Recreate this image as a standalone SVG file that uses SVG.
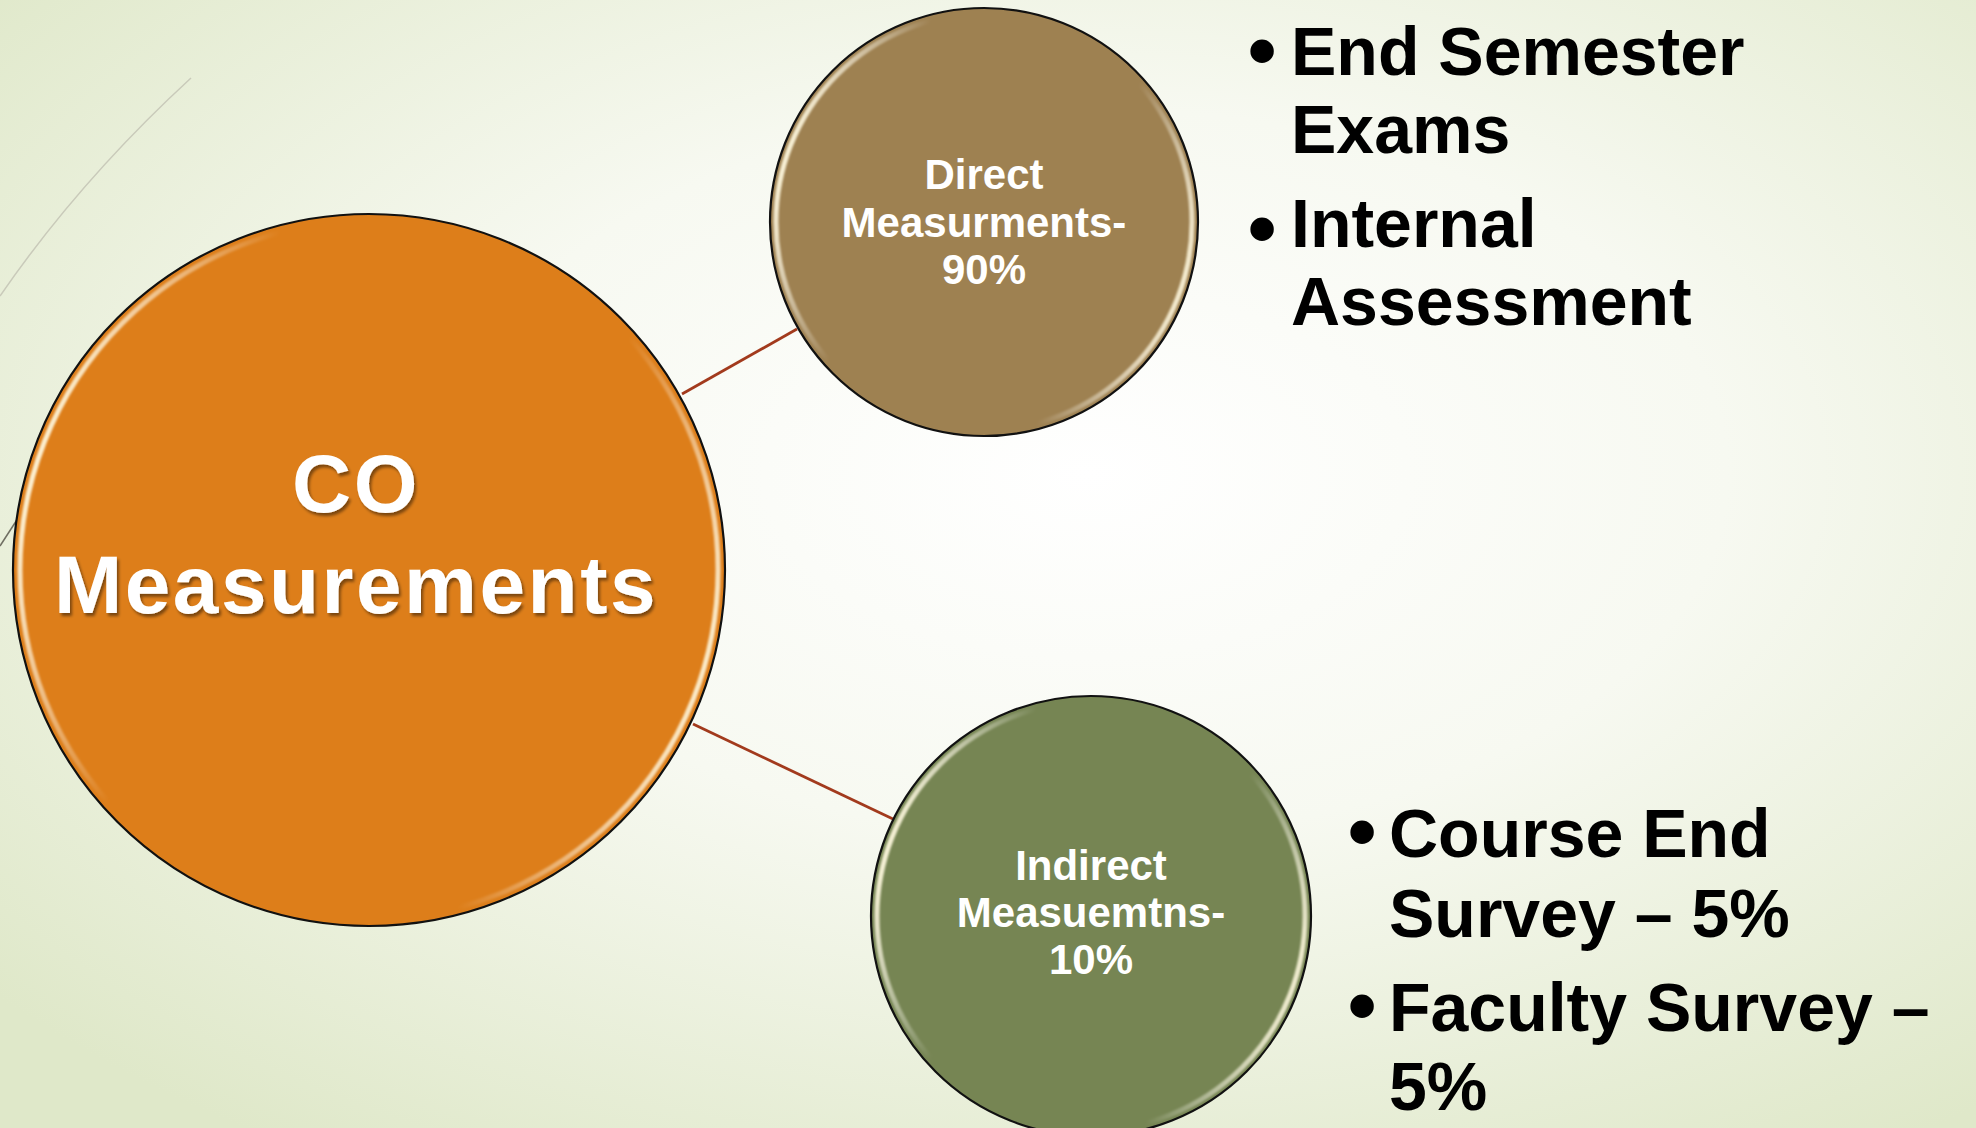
<svg xmlns="http://www.w3.org/2000/svg" width="1976" height="1128" viewBox="0 0 1976 1128">
  <defs>
    <radialGradient id="bg" cx="0.55" cy="0.42" r="0.72">
      <stop offset="0" stop-color="#FFFFFF"/>
      <stop offset="0.45" stop-color="#F7F9F1"/>
      <stop offset="1" stop-color="#DFE8C9"/>
    </radialGradient>
    <linearGradient id="bevel" x1="0" y1="0.35" x2="1" y2="0.65">
      <stop offset="0" stop-color="#FFF8DC" stop-opacity="1"/>
      <stop offset="0.25" stop-color="#FFFFFF" stop-opacity="0"/>
      <stop offset="0.75" stop-color="#FFFFFF" stop-opacity="0"/>
      <stop offset="1" stop-color="#FFF8DC" stop-opacity="0.95"/>
    </linearGradient>
    <filter id="soft" x="-5%" y="-5%" width="110%" height="110%">
      <feGaussianBlur stdDeviation="0.9"/>
    </filter>
    <filter id="tshadow" x="-10%" y="-20%" width="120%" height="140%">
      <feDropShadow dx="2" dy="3" stdDeviation="1.5" flood-color="#000000" flood-opacity="0.45"/>
    </filter>
    <style>
      .node-outline { stroke: #111111; stroke-width: 2.2; }
      .bevel { fill: none; stroke: url(#bevel); stroke-width: 5; filter: url(#soft); }
      .node-text { font-family: "Liberation Sans", Arial, sans-serif; font-weight: bold; fill: #FFFFFF; text-anchor: middle; }
      .big { font-size: 82px; letter-spacing: 2.5px; }
      .small { font-size: 42px; }
      .bullet-text { font-family: "Liberation Sans", Arial, sans-serif; font-weight: bold; font-size: 68px; fill: #000000; }
      .bullet { font-family: "Liberation Sans", Arial, sans-serif; font-weight: bold; font-size: 82px; fill: #000000; text-anchor: middle; }
      .connector { stroke: #A23A1D; stroke-width: 2.8; fill: none; }
      .deco { fill: none; stroke-width: 1.5; }
    </style>
  </defs>

  <rect x="0" y="0" width="1976" height="1128" fill="url(#bg)"/>

  <g id="background-lines">
    <path class="deco" d="M191,78 Q80,180 0,296" stroke="#C9CABA"/>
    <path class="deco" d="M0,546 L22,512" stroke="#6F6E62"/>
  </g>

  <g id="connectors">
    <line class="connector" x1="682" y1="394" x2="797" y2="329"/>
    <line class="connector" x1="693" y1="724" x2="893" y2="819"/>
  </g>

  <g id="node-co">
    <circle cx="369" cy="570" r="356" fill="#DD7E1A" class="node-outline"/>
    <circle cx="369" cy="570" r="349" class="bevel"/>
    <text class="node-text big" x="356" y="512" filter="url(#tshadow)">CO</text>
    <text class="node-text big" x="356" y="613" filter="url(#tshadow)">Measurements</text>
  </g>

  <g id="node-direct">
    <circle cx="984" cy="222" r="214" fill="#9E8151" class="node-outline"/>
    <circle cx="984" cy="222" r="208" class="bevel"/>
    <text class="node-text small" x="984" y="189">Direct</text>
    <text class="node-text small" x="984" y="237">Measurments-</text>
    <text class="node-text small" x="984" y="284">90%</text>
  </g>

  <g id="node-indirect">
    <circle cx="1091" cy="916" r="220" fill="#768553" class="node-outline"/>
    <circle cx="1091" cy="916" r="214" class="bevel"/>
    <text class="node-text small" x="1091" y="880">Indirect</text>
    <text class="node-text small" x="1091" y="927">Measuemtns-</text>
    <text class="node-text small" x="1091" y="974">10%</text>
  </g>

  <g id="list-direct">
    <text class="bullet" x="1262" y="78">•</text>
    <text class="bullet-text" x="1291" y="75">End Semester</text>
    <text class="bullet-text" x="1291" y="153">Exams</text>
    <text class="bullet" x="1262" y="256">•</text>
    <text class="bullet-text" x="1291" y="247">Internal</text>
    <text class="bullet-text" x="1291" y="325">Assessment</text>
  </g>

  <g id="list-indirect">
    <text class="bullet" x="1362" y="859">•</text>
    <text class="bullet-text" x="1389" y="857">Course End</text>
    <text class="bullet-text" x="1389" y="937">Survey – 5%</text>
    <text class="bullet" x="1362" y="1033">•</text>
    <text class="bullet-text" x="1389" y="1031">Faculty Survey –</text>
    <text class="bullet-text" x="1389" y="1110">5%</text>
  </g>
</svg>
